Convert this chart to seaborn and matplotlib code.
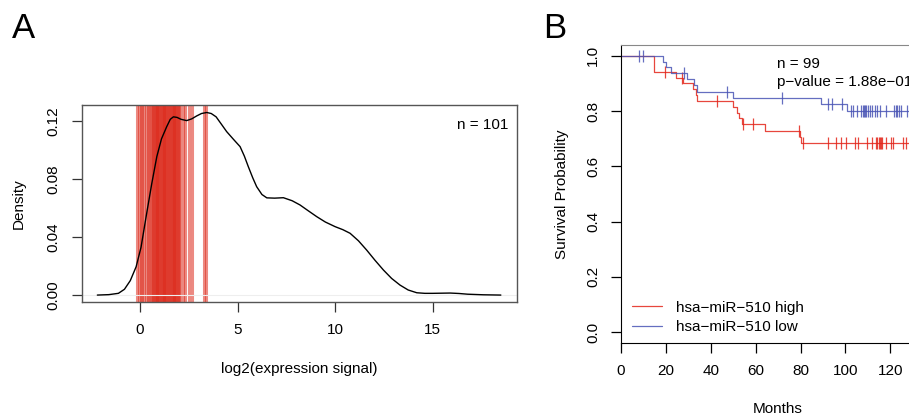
import numpy as np
import pandas as pd
import matplotlib
matplotlib.use('Agg')
import matplotlib.pyplot as plt
import seaborn as sns

# panel A: density curve
dens_x = [-2.19, -1.6, -1.11, -0.8, -0.5, -0.2, 0.05, 0.34, 0.6, 0.86, 1.1, 1.37, 1.55, 1.71,
          1.9, 2.1, 2.39, 2.65, 2.9, 3.15, 3.42, 3.65, 3.9, 4.15, 4.44, 4.8, 5.13, 5.35, 5.55,
          5.78, 5.98, 6.25, 6.5, 6.9, 7.35, 7.8, 8.2, 8.6, 9.06, 9.5, 10.0, 10.4, 10.77, 11.2,
          11.62, 12.05, 12.48, 12.9, 13.33, 13.75, 14.19, 14.6, 15.0, 15.45, 15.9, 16.35, 16.8,
          17.6, 18.5]
dens_y = [0.0, 0.0003, 0.0012, 0.004, 0.010, 0.0196, 0.033, 0.0565, 0.077, 0.0957, 0.108,
          0.1165, 0.1215, 0.1232, 0.1228, 0.1215, 0.1206, 0.1218, 0.1238, 0.1255, 0.1262,
          0.1255, 0.1232, 0.1185, 0.113, 0.1075, 0.1026, 0.096, 0.0888, 0.081, 0.0749, 0.0695,
          0.0672, 0.0670, 0.0673, 0.0652, 0.0623, 0.0585, 0.0542, 0.0505, 0.0473, 0.0452,
          0.0427, 0.0375, 0.0311, 0.0240, 0.0173, 0.0115, 0.0069, 0.0035, 0.0016, 0.0012,
          0.0012, 0.0013, 0.0014, 0.0011, 0.0006, 0.0002, 0.0]
# samples marked with red lines
marked = [-0.17, -0.05, 0.05, 0.12, 0.21, 0.30, 0.41, 0.48, 0.58, 0.62, 0.67, 0.71, 0.76, 0.80,
          0.85, 0.88, 0.93, 0.98, 1.02, 1.07, 1.12, 1.16, 1.21, 1.25, 1.30, 1.35, 1.39, 1.44,
          1.49, 1.53, 1.58, 1.62, 1.67, 1.72, 1.76, 1.81, 1.86, 1.90, 1.95, 2.00, 2.05, 2.18,
          2.33, 2.50, 2.67, 3.27, 3.40]

# panel B: Kaplan-Meier steps
high_t = [0, 14.9, 24.6, 27.8, 32.3, 33.5, 34.0, 49.8, 51.8, 52.7, 53.8, 64.1, 79.7, 80.4, 140]
high_s = [1.0, 0.942, 0.921, 0.900, 0.879, 0.858, 0.836, 0.814, 0.794, 0.774, 0.753, 0.728,
          0.706, 0.683, 0.683]
high_cens_t = [19.5, 27.1, 42.9, 54.5, 59.0, 79.4, 81.2, 92.3, 95.7, 98.2, 100.4, 104.1, 105.6,
               109.6, 111.6, 113.5, 114.1, 114.7, 115.2, 115.8, 116.4, 118.2, 120.1, 121.2,
               125.6, 127.1]
high_cens_s = [0.942, 0.921, 0.836, 0.753, 0.753, 0.728] + [0.683] * 20

low_t = [0, 18.9, 20.0, 22.4, 29.6, 32.6, 33.8, 49.8, 88.9, 100.7, 140]
low_s = [1.0, 0.979, 0.958, 0.937, 0.915, 0.894, 0.870, 0.848, 0.826, 0.801, 0.801]
low_cens_t = [8.3, 9.8, 28.3, 47.1, 71.8, 92.3, 94.2, 98.5, 102.4, 103.4, 104.9, 106.8, 107.6,
              108.1, 108.7, 109.3, 110.1, 110.8, 112.0, 113.2, 114.1, 115.3, 117.9, 121.6,
              122.4, 123.0, 123.9, 124.9, 127.2]
low_cens_s = [1.0, 1.0, 0.937, 0.870, 0.848, 0.826, 0.826, 0.826] + [0.801] * 21

sns.set_style('ticks')
plt.rcParams['font.family'] = ['Liberation Sans', 'DejaVu Sans']
plt.rcParams['font.size'] = 11
plt.rcParams['text.color'] = 'black'
plt.rcParams['axes.labelcolor'] = 'black'
plt.rcParams['xtick.color'] = 'black'
plt.rcParams['ytick.color'] = 'black'

RED = '#e3261b'
BLUE = '#4a55b5'

fig = plt.figure(figsize=(9.09, 4.16), dpi=100)
axA = fig.add_axes([0.0897, 0.274, 0.4791, 0.474])
axB = fig.add_axes([0.683, 0.175, 0.346, 0.7175])

# ---- panel A
for m in marked:
    axA.axvline(m, color='#dd2a1b', alpha=0.55, lw=2.2, zorder=1)
axA.axhline(0, color='#eeeeee', lw=0.8, zorder=1)
sns.lineplot(x=dens_x, y=dens_y, ax=axA, color='black', lw=1.0, sort=False, zorder=3)
axA.set_xlim(-3.0, 19.33)
axA.set_ylim(-0.0048, 0.1315)
axA.set_xticks([0, 5, 10, 15])
axA.set_yticks([0, 0.04, 0.08, 0.12])
axA.set_yticklabels(['0.00', '0.04', '0.08', '0.12'], rotation=90, va='center')
axA.set_xlabel('log2(expression signal)', labelpad=18)
axA.set_ylabel('Density', labelpad=15)
axA.text(0.98, 0.9, 'n = 101', transform=axA.transAxes, ha='right', va='center', fontsize=11)
for s in axA.spines.values():
    s.set_color('#555555')
    s.set_linewidth(1.0)
axA.tick_params(length=7, width=0.9, pad=8, labelsize=11, color='#333333')

# ---- panel B
sns.lineplot(x=high_t, y=high_s, ax=axB, color=RED, lw=0.9, alpha=0.85,
             drawstyle='steps-post', label='hsa\u2212miR\u2212510 high')
sns.lineplot(x=low_t, y=low_s, ax=axB, color=BLUE, lw=0.9, alpha=0.85,
             drawstyle='steps-post', label='hsa\u2212miR\u2212510 low')
sns.scatterplot(x=high_cens_t, y=high_cens_s, ax=axB, marker='|', s=70, color=RED,
                linewidth=0.9, alpha=0.85, legend=False)
sns.scatterplot(x=low_cens_t, y=low_cens_s, ax=axB, marker='|', s=70, color=BLUE,
                linewidth=0.9, alpha=0.85, legend=False)
axB.set_xlim(0, 140)
axB.set_ylim(-0.04, 1.04)
axB.set_xticks([0, 20, 40, 60, 80, 100, 120])
axB.set_yticks([0, 0.2, 0.4, 0.6, 0.8, 1.0])
axB.set_yticklabels(['0.0', '0.2', '0.4', '0.6', '0.8', '1.0'], rotation=90, va='center')
axB.set_xlabel('Months', labelpad=17)
axB.set_ylabel('Survival Probability', labelpad=12)
axB.text(69.3, 0.970, 'n = 99', ha='left', va='center', fontsize=11)
axB.text(69.3, 0.905, 'p\u2212value = 1.88e\u221201', ha='left', va='center', fontsize=11)
axB.spines['left'].set_color('black')
axB.spines['bottom'].set_color('black')
axB.spines['top'].set_color('#888888')
axB.spines['right'].set_visible(False)
axB.tick_params(length=7, width=0.9, pad=8, labelsize=11)
leg = axB.legend(loc='lower left', frameon=False, fontsize=11, handlelength=2.0,
                 handletextpad=0.9, labelspacing=0.35, borderaxespad=0.3,
                 bbox_to_anchor=(0.0, -0.005))

fig.text(12 / 909, 1 - 12 / 416, 'A', fontsize=25, ha='left', va='top')
fig.text(543 / 909, 1 - 12 / 416, 'B', fontsize=25, ha='left', va='top')

fig.savefig('out.png', dpi=100)
